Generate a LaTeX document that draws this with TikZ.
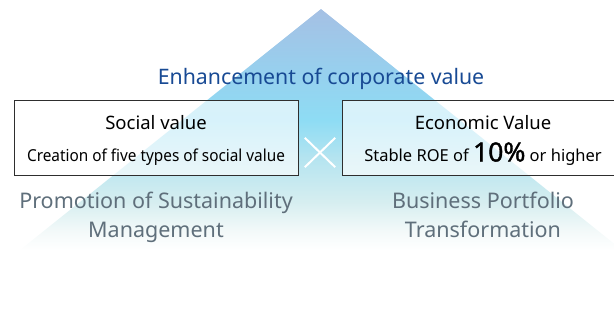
\documentclass[tikz,border=0pt]{standalone}
\usepackage{fontspec}
\setmainfont{Noto Sans}
\newfontfamily\narrowfont[FakeStretch=0.93]{Noto Sans}
\newfontfamily\pctfont[FakeBold=1.3]{Noto Sans}
\usetikzlibrary{calc}

\definecolor{titleblue}{HTML}{184A94}
\definecolor{notegray}{HTML}{5F6F7B}
\definecolor{boxline}{HTML}{2E2E2E}
\definecolor{pyrtop}{HTML}{A5C0E4}
\definecolor{pyrhigh}{HTML}{97D0EE}
\definecolor{pyrmid}{HTML}{8EDCF4}
\definecolor{pyrsoft}{HTML}{B5E4F0}
\definecolor{pyrlow}{HTML}{D6EEF0}
\definecolor{pyrfade}{HTML}{F3F9F9}

% pyramid colours, bottom (25bp) to apex (75bp)
\pgfdeclareverticalshading{pyramid}{100bp}{
	color(0bp)=(white); color(25bp)=(white); color(29bp)=(pyrfade);
	color(35bp)=(pyrlow); color(44bp)=(pyrsoft); color(52bp)=(pyrmid);
	color(62bp)=(pyrhigh); color(75bp)=(pyrtop); color(100bp)=(pyrtop)}

\newcommand{\pct}[1]{{\pctfont\fontsize{26.5}{26.5}\selectfont #1}}

\tikzset{
	valbox/.style={draw=boxline, line width=1pt, fill=white, fill opacity=0.65,
		minimum width=284pt, minimum height=75pt, inner sep=0pt},
	valhead/.style={anchor=base, inner sep=0pt, font=\fontsize{18.5}{18.5}\selectfont},
	valtext/.style={anchor=base, inner sep=0pt, font=\fontsize{16.5}{16.5}\selectfont},
	headline/.style={anchor=base, inner sep=0pt, font=\fontsize{21.3}{21.3}\selectfont, text=titleblue},
	pillar/.style={anchor=north, inner sep=0pt, align=center, text=notegray,
		font=\fontsize{21.5}{29.5}\selectfont}
}

\begin{document}
\begin{tikzpicture}[x=1pt,y=-1pt]
	\useasboundingbox (0,0) rectangle (614,322);

	% the pyramid behind everything
	\coordinate (apex) at (321,9);
	\coordinate (baseL) at (20,250);
	\coordinate (baseR) at (622,250);
	\shade[shading=pyramid] (apex) -- (baseL) -- (baseR) -- cycle;

	\node[headline] (title) at (321,84) {Enhancement of corporate value};

	% the two value boxes
	\node[valbox] (social) at (156,137.5) {};
	\node[valbox] (economic) at (484,137.5) {};

	\node[valhead] (socialhead) at ($(social.north)+(0,30)$) {Social value};
	\node[valtext] (socialtext) at ($(social.north)+(0,62)$)
		{\narrowfont Creation of five types of social value};
	\node[valhead] (econhead) at ($(economic.north)+(-1,30)$) {Economic Value};
	\node[valtext] (econtext) at ($(economic.north)+(-1,62)$)
		{Stable ROE of \pct{10\%} or higher};

	% the "times" mark between both boxes
	\node[minimum width=30pt, minimum height=29pt, inner sep=0pt] (times) at (320,152.5) {};
	\draw[white, line width=2pt] (times.north west) -- (times.south east);
	\draw[white, line width=2pt] (times.south west) -- (times.north east);

	\node[pillar] (sustain) at (156,191.5) {Promotion of Sustainability\\Management};
	\node[pillar] (portfolio) at (483,191.5) {Business Portfolio\\Transformation};

\end{tikzpicture}
\end{document}
